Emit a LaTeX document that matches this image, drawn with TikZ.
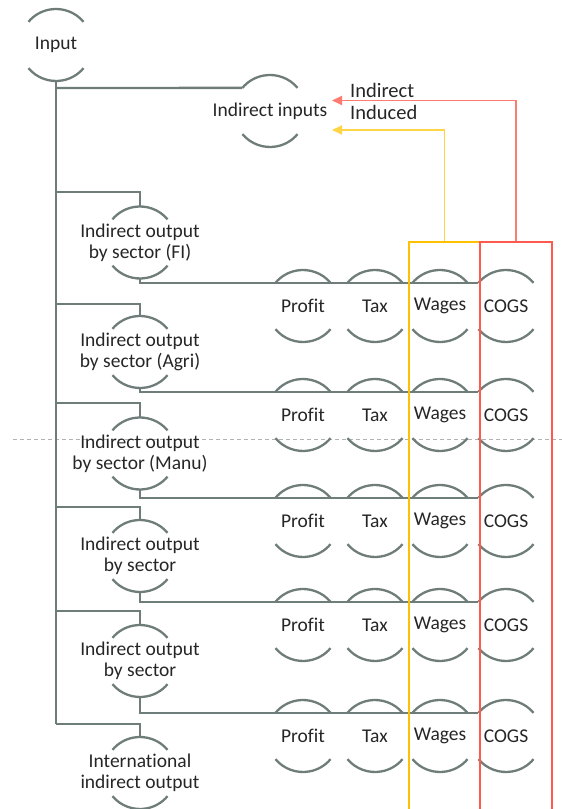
\documentclass[tikz,border=0pt]{standalone}
\usepackage{fontspec}
\setmainfont{Carlito}[Ligatures=NoCommon]
\usetikzlibrary{arrows.meta}
\definecolor{lgray}{HTML}{6F7D7A}
\definecolor{txt}{HTML}{262626}
\definecolor{bred}{HTML}{FF5A4E}
\definecolor{ared}{HTML}{FF7A70}
\definecolor{byel}{HTML}{FFC000}
\definecolor{ayel}{HTML}{FFD445}
\newcommand{\nodearcs}[1]{%
  \draw[arcline] (#1.40) arc[start angle=40,end angle=140,radius=36pt];
  \draw[arcline] (#1.220) arc[start angle=220,end angle=320,radius=36pt];}
\begin{document}
\begin{tikzpicture}[x=1pt,y=1pt,
  cnode/.style={circle,minimum size=72pt,inner sep=0pt,outer sep=0pt,
    label={[ctext]center:#1}},
  ctext/.style={align=center,inner sep=0pt,text=txt,font=\fontsize{19.5}{21}\selectfont},
  arcline/.style={draw=lgray,line width=2.3pt},
  conn/.style={draw=lgray,line width=2.3pt},
  redbox/.style={draw=bred,line width=2.2pt},
  yelbox/.style={draw=byel,line width=2.2pt},
  lbl/.style={text=txt,font=\fontsize{20.5}{22}\selectfont,anchor=west,inner sep=0pt}]
\useasboundingbox (0,0) rectangle (562,809);
% dashed guide line
\draw[gray!60,line width=0.8pt,dash pattern=on 4pt off 3pt] (13,370) -- (562,370);
% nodes
\node[cnode={Input}] (input) at (56,764) {};
\node[cnode={Indirect inputs}] (ii) at (270,698) {};
\node[cnode={Indirect output\\by sector (FI)}] (fi) at (140,566.5) {};
\node[cnode={Indirect output\\by sector (Agri)}] (agri) at (140,457) {};
\node[cnode={Indirect output\\by sector (Manu)}] (manu) at (140,355.5) {};
\node[cnode={Indirect output\\by sector}] (sfour) at (140,253) {};
\node[cnode={Indirect output\\by sector}] (sfive) at (140,148) {};
\node[cnode={International\\indirect output}] (intl) at (140,36) {};
\foreach \n in {input,ii,fi,agri,manu,sfour,sfive,intl} {\nodearcs{\n}}
% rows
\foreach \r/\y in {1/503,2/394,3/288,4/184,5/73} {
  \node[cnode={Profit}] (profit\r) at (303,\y) {};
  \node[cnode={Tax}] (tax\r) at (375,\y) {};
  \node[cnode={Wages}] (wages\r) at (440,\y) {};
  \node[cnode={COGS}] (cogs\r) at (506,\y) {};
  \nodearcs{profit\r}\nodearcs{tax\r}\nodearcs{wages\r}\nodearcs{cogs\r}
}
% branch points
\coordinate (b0) at (56,721);
\coordinate (b1) at (56,617);
\coordinate (b2) at (56,505);
\coordinate (b3) at (56,406);
\coordinate (b4) at (56,302);
\coordinate (b5) at (56,198);
\coordinate (b6) at (56,85);
\draw[conn] (input.south) -- (b6);
\draw[conn] (b0) -- (ii.140);
\draw[conn] (b1) -| (fi.north);
\draw[conn] (b2) -| (agri.north);
\draw[conn] (b3) -| (manu.north);
\draw[conn] (b4) -| (sfour.north);
\draw[conn] (b5) -| (sfive.north);
\draw[conn] (b6) -| (intl.north);
% row lines
\draw[conn] (fi.south) |- (cogs1.140);
\draw[conn] (agri.south) |- (cogs2.140);
\draw[conn] (manu.south) |- (cogs3.140);
\draw[conn] (sfour.south) |- (cogs4.140);
\draw[conn] (sfive.south) |- (cogs5.140);
% boxes
\node[yelbox,minimum width=71pt,minimum height=600pt,inner sep=0pt,anchor=north west] (wagebox) at (408,568) {};
\node[redbox,minimum width=72pt,minimum height=600pt,inner sep=0pt,anchor=north west] (cogsbox) at (479,568) {};
% feedback arrows
\coordinate (redtip) at (332,708.5);
\coordinate (yeltip) at (332,679);
\draw[ared,line width=1.7pt,-{Triangle[length=10pt,width=9pt]}] (cogsbox.north) |- (redtip);
\draw[ayel,line width=1.7pt,-{Triangle[length=10pt,width=9pt]}] (wagebox.north) |- (yeltip);
\node[lbl] (lindirect) at (350,719) {Indirect};
\node[lbl] (linduced) at (350,697) {Induced};
\end{tikzpicture}
\end{document}
